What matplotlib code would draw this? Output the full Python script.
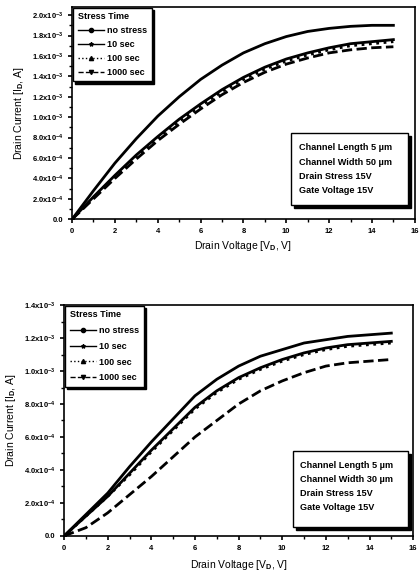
import numpy as np
import matplotlib
matplotlib.use("Agg")
import matplotlib.pyplot as plt
from matplotlib.patches import Rectangle
from matplotlib.ticker import MultipleLocator, FuncFormatter

plt.rcParams['font.family'] = ['Liberation Sans', 'DejaVu Sans']
plt.rcParams['font.weight'] = 'bold'
plt.rcParams['mathtext.fontset'] = 'custom'
plt.rcParams['mathtext.rm'] = 'Liberation Sans:bold'
plt.rcParams['mathtext.it'] = 'Liberation Sans:bold'

# drain voltage sweep (V)
vd = [0, 1, 2, 3, 4, 5, 6, 7, 8, 9, 10, 11, 12, 13, 14, 15]
series_names = ["no stress", "10 sec", "100 sec", "1000 sec"]

# top panel: W = 50 um, drain current in units of 1e-3 A
top_no_stress = [0, 0.28, 0.55, 0.79, 1.01, 1.20, 1.37, 1.51, 1.63, 1.72, 1.79, 1.84, 1.87, 1.89, 1.90, 1.90]
top_10s = [0, 0.22, 0.43, 0.63, 0.81, 0.98, 1.13, 1.27, 1.39, 1.49, 1.57, 1.63, 1.68, 1.72, 1.74, 1.76]
top_100s = [0, 0.21, 0.42, 0.62, 0.80, 0.96, 1.11, 1.25, 1.37, 1.47, 1.55, 1.61, 1.66, 1.70, 1.72, 1.74]
top_1000s = [0, 0.20, 0.40, 0.59, 0.77, 0.93, 1.08, 1.22, 1.34, 1.44, 1.52, 1.58, 1.63, 1.66, 1.68, 1.69]

# bottom panel: W = 30 um
bot_no_stress = [0, 0.13, 0.26, 0.42, 0.57, 0.71, 0.85, 0.95, 1.03, 1.09, 1.13, 1.17, 1.19, 1.21, 1.22, 1.23]
bot_10s = [0, 0.12, 0.24, 0.38, 0.52, 0.65, 0.78, 0.88, 0.96, 1.02, 1.07, 1.11, 1.14, 1.16, 1.17, 1.18]
bot_100s = [0, 0.12, 0.24, 0.37, 0.51, 0.64, 0.77, 0.87, 0.95, 1.01, 1.06, 1.10, 1.13, 1.15, 1.16, 1.17]
bot_1000s = [0, 0.05, 0.14, 0.25, 0.36, 0.48, 0.60, 0.70, 0.80, 0.88, 0.94, 0.99, 1.03, 1.05, 1.06, 1.07]

top_info = ["Channel Length 5 \u00b5m", "Channel Width 50 \u00b5m", "Drain Stress 15V", "Gate Voltage 15V"]
bot_info = ["Channel Length 5 \u00b5m", "Channel Width 30 \u00b5m", "Drain Stress 15V", "Gate Voltage 15V"]

styles = [("-", "o", 2.0), ("-", "*", 3.0), (":", "^", 2.5), ("--", "v", 2.5)]


def sci_fmt(val, pos):
    if abs(val) < 1e-12:
        return "0.0"
    exp = int(np.floor(np.log10(abs(val)) + 1e-9))
    mant = val / 10 ** exp
    return r"$%.1f\mathrm{x}10^{%d}$" % (mant, exp)


def draw_panel(ax, curves, ymax, info, info_box, leg_spacing):
    x = np.array(vd)
    for (ls, mk, ms), name, ys in zip(styles, series_names, curves):
        ax.plot(x, np.array(ys) * 1e-3, color="black", ls=ls, lw=2.0,
                marker=mk, ms=ms, markevery=[0], label=name)
    ax.set_xlim(0, 16)
    ax.set_ylim(0, ymax)
    ax.xaxis.set_major_locator(MultipleLocator(2))
    ax.xaxis.set_minor_locator(MultipleLocator(1))
    ax.yaxis.set_major_locator(MultipleLocator(2e-4))
    ax.yaxis.set_minor_locator(MultipleLocator(1e-4))
    ax.yaxis.set_major_formatter(FuncFormatter(sci_fmt))
    ax.tick_params(which="major", direction="out", length=3, width=1.2, labelsize=5.5)
    ax.tick_params(which="minor", direction="out", length=2, width=1.0)
    for s in ax.spines.values():
        s.set_linewidth(1.2)

    leg = ax.legend(title="Stress Time", loc="upper left", bbox_to_anchor=(0.003, 0.997),
                    fontsize=6.5, title_fontsize=6.5, frameon=True, fancybox=False,
                    edgecolor="black", handlelength=2.9, borderaxespad=0.0,
                    labelspacing=leg_spacing, handletextpad=0.4, borderpad=0.5,
                    shadow={"color": "black", "alpha": 1, "ox": 1.5, "oy": -1.5})
    leg.get_frame().set_linewidth(1.0)
    leg._legend_box.align = "left"
    for h in leg.get_lines():
        h.set_linewidth(1.0)
        h.set_markersize(3)

    bx, by, bw, bh = info_box
    ax.add_patch(Rectangle((bx + 0.008, by - 0.014), bw, bh, transform=ax.transAxes,
                           facecolor="black", edgecolor="black", zorder=4))
    ax.add_patch(Rectangle((bx, by), bw, bh, transform=ax.transAxes,
                           facecolor="white", edgecolor="black", lw=1.0, zorder=5))
    for i, line in enumerate(info):
        ax.annotate(line, xy=(bx, by + bh), xycoords="axes fraction",
                    xytext=(5.5, -10.5 - i * 10.2), textcoords="offset points",
                    fontsize=6.6, va="center", ha="left", zorder=6)


fig = plt.figure(figsize=(4.19, 5.80), dpi=100)

ax1 = fig.add_axes([0.172, 0.622, 0.818, 0.366])
draw_panel(ax1, [top_no_stress, top_10s, top_100s, top_1000s], 2.08e-3, top_info,
           (0.64, 0.065, 0.34, 0.34), 0.55)
ax1.set_xlabel("Drain Voltage [V$_{D}$, V]", fontsize=7.5, labelpad=3)
ax1.set_ylabel("Drain Current [I$_{D}$, A]", fontsize=7.5, labelpad=4)

ax2 = fig.add_axes([0.153, 0.076, 0.833, 0.398])
draw_panel(ax2, [bot_no_stress, bot_10s, bot_100s, bot_1000s], 1.4e-3, bot_info,
           (0.655, 0.04, 0.33, 0.33), 0.75)
ax2.set_xlabel("Drain Voltage [V$_{D}$, V]", fontsize=7.5, labelpad=4)
ax2.set_ylabel("Drain Current [I$_{D}$, A]", fontsize=7.5, labelpad=4)

fig.savefig("out.png", dpi=100)
